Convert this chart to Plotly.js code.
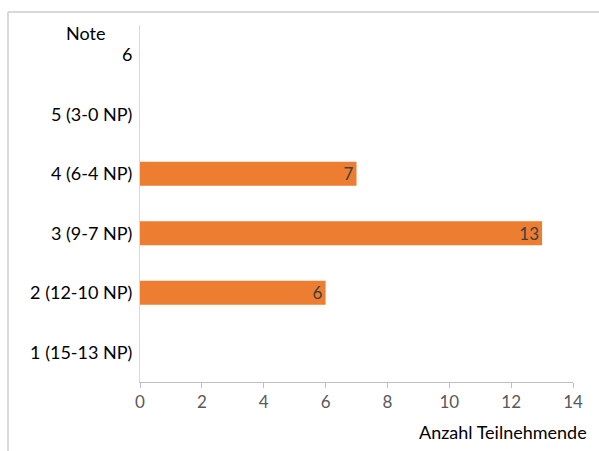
<!DOCTYPE html>
<html>
<head>
<meta charset="utf-8">
<script src="https://cdn.plot.ly/plotly-3.0.1.min.js"></script>
<style>html,body{margin:0;padding:0;background:#fff;}#chart{width:599px;height:451px;}</style>
</head>
<body>
<div id="chart"></div>
<script>
const categories = ["1 (15-13 NP)", "2 (12-10 NP)", "3 (9-7 NP)", "4 (6-4 NP)", "5 (3-0 NP)", "6"];
const counts = [0, 6, 13, 7, 0, 0];
const xTicks = [0, 2, 4, 6, 8, 10, 12, 14];
const yTitle = "Note";
const xTitle = "Anzahl Teilnehmende";

const FONT = "Lato, 'Open Sans', sans-serif";
const L = 140, R = 26, T = 25, B = 69, W = 599, H = 451;
const pw = W - L - R, ph = H - T - B;
const px = v => (v - L) / pw;
const py = v => (H - B - v) / ph;

const trace = {
  type: "bar",
  orientation: "h",
  y: categories,
  x: counts,
  width: 0.4,
  marker: {color: "#ED7D31", line: {width: 0}},
  text: counts.map(v => v > 0 ? String(v) : ""),
  textposition: "inside",
  insidetextanchor: "end",
  textangle: 0,
  constraintext: "none",
  textfont: {family: FONT, size: 17, color: "#404040"},
  hoverinfo: "none"
};

const layout = {
  width: W, height: H,
  margin: {l: L, r: R, t: T, b: B, pad: 0},
  paper_bgcolor: "#fff", plot_bgcolor: "#fff",
  showlegend: false,
  font: {family: FONT, size: 17, color: "#000"},
  xaxis: {
    range: [0, 14],
    tickvals: xTicks,
    ticktext: xTicks.map(String),
    showgrid: false, zeroline: false,
    showline: true, linecolor: "#bfbfbf", linewidth: 1,
    ticks: "outside", ticklen: 5, tickcolor: "#bfbfbf",
    tickfont: {family: FONT, size: 17, color: "#595959"},
    fixedrange: true
  },
  yaxis: {
    type: "category",
    categoryorder: "array", categoryarray: categories,
    range: [-0.5, 5.5],
    showgrid: false, zeroline: false,
    showline: true, linecolor: "#d9d9d9", linewidth: 1,
    ticks: "", ticklabelstandoff: 3,
    tickfont: {family: FONT, size: 18, color: "#000"},
    fixedrange: true
  },
  annotations: [
    {text: yTitle, xref: "paper", yref: "paper", x: px(107), y: py(33), xanchor: "right", yanchor: "middle",
     showarrow: false, font: {family: FONT, size: 18, color: "#000"}},
    {text: xTitle, xref: "paper", yref: "paper", x: px(589), y: py(432), xanchor: "right", yanchor: "middle",
     showarrow: false, font: {family: FONT, size: 18, color: "#000"}}
  ],
  shapes: [
    {type: "line", xref: "paper", yref: "paper", x0: px(8), x1: px(620), y0: py(12), y1: py(12),
     line: {color: "#d9d9d9", width: 2}},
    {type: "line", xref: "paper", yref: "paper", x0: px(8), x1: px(8), y0: py(12), y1: py(470),
     line: {color: "#d9d9d9", width: 2}}
  ]
};

Plotly.newPlot("chart", [trace], layout, {staticPlot: true, displayModeBar: false});
</script>
</body>
</html>
